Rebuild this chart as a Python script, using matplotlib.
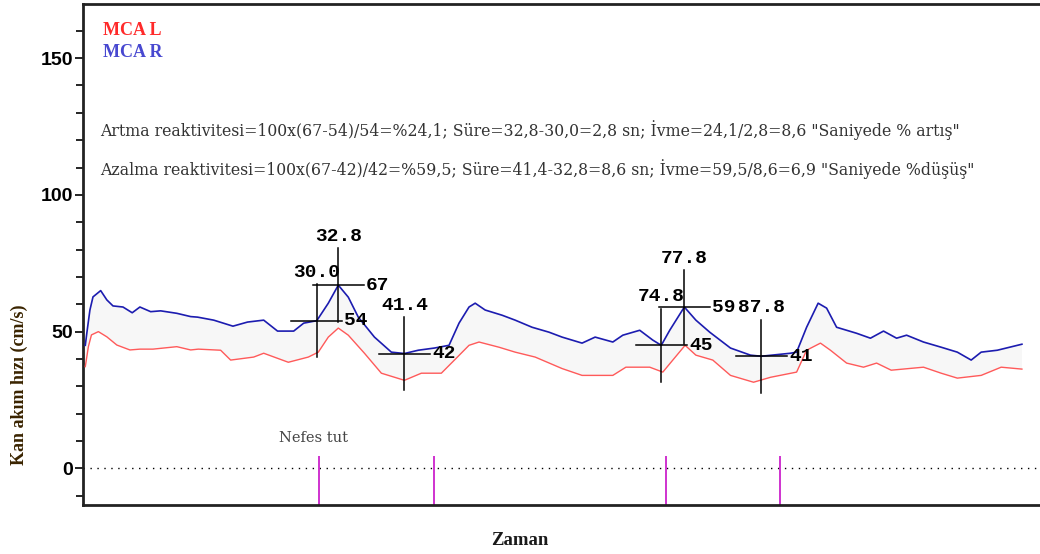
import matplotlib
matplotlib.use("Agg")
import matplotlib.pyplot as plt
import numpy as np

# MCA R (blue) - time (s), velocity (cm/s)
r_time = [-0.1, 0.1, 0.5, 0.9, 1.9, 2.7, 3.5, 4.8, 6.0, 7.0, 8.4, 9.7, 11.8, 13.6, 14.5,
          16.6, 19.1, 21.0, 23.1, 24.9, 27.0, 28.3, 30.0, 31.5, 32.8, 34.1, 35.4, 37.5,
          39.7, 41.4, 43.2, 45.3, 47.2, 48.5, 49.8, 50.6, 51.9, 54.1, 55.8, 58.0, 60.2,
          61.9, 64.5, 66.2, 68.5, 69.8, 72.0, 73.7, 74.8, 75.9, 77.8, 79.3, 81.1, 83.8,
          86.4, 87.8, 91.6, 92.4, 93.7, 95.2, 96.3, 97.6, 100.2, 102.0, 103.7, 105.4,
          106.7, 108.9, 111.2, 113.3, 115.1, 116.4, 118.5, 121.7]
r_vel = [45.0, 49.5, 57.9, 62.7, 65.0, 61.6, 59.4, 59.0, 56.9, 59.0, 57.3, 57.6, 56.7, 55.5, 55.3,
         54.2, 52.0, 53.5, 54.2, 50.2, 50.2, 53.1, 54.0, 60.4, 67.0, 62.6, 55.3, 48.0,
         42.5, 42.0, 43.2, 44.0, 45.0, 53.1, 59.0, 60.4, 57.9, 56.0, 54.2, 51.6, 49.8,
         48.0, 45.8, 48.0, 46.2, 48.7, 50.5, 46.9, 45.0, 50.5, 59.0, 54.2, 49.8, 44.0,
         41.4, 41.0, 42.1, 42.5, 51.6, 60.4, 58.6, 51.6, 49.4, 47.6, 50.2, 47.6,
         48.7, 46.2, 44.3, 42.5, 39.6, 42.5, 43.2, 45.4]

# MCA L (red)
l_time = [-0.1, 0.3, 0.7, 1.6, 2.7, 4.0, 5.7, 7.0, 8.7, 11.8, 13.6, 14.6, 17.5, 18.8, 21.8,
          23.1, 26.3, 28.9, 30.2, 31.5, 32.8, 34.1, 36.2, 38.4, 41.4, 43.6, 46.2, 47.9,
          49.8, 51.1, 53.7, 55.8, 58.4, 61.9, 64.5, 68.5, 70.2, 73.3, 75.0, 76.3, 77.9,
          79.3, 81.5, 83.8, 86.8, 89.0, 92.4, 93.7, 95.5, 96.8, 98.9, 101.1, 102.8,
          104.7, 108.9, 111.2, 113.3, 116.4, 119.0, 121.7]
l_vel = [37.2, 44.5, 48.8, 50.0, 48.1, 45.1, 43.3, 43.6, 43.6, 44.5, 43.3, 43.6, 43.2, 39.6, 40.7,
         42.1, 38.8, 40.7, 42.5, 48.0, 51.3, 48.7, 42.1, 34.8, 32.2, 34.8, 34.8, 39.6,
         45.0, 46.2, 44.3, 42.5, 40.7, 36.5, 34.0, 34.0, 37.0, 37.0, 35.2, 39.6, 45.0,
         41.4, 39.6, 34.0, 31.5, 33.3, 35.2, 43.2, 45.8, 43.2, 38.5, 37.0, 38.5,
         35.9, 37.0, 34.8, 33.0, 34.0, 37.0, 36.3]

# measurement cursors: time label, value label
cursor_time = [30.0, 32.8, 41.4, 74.8, 77.8, 87.8]
cursor_value = [54, 67, 42, 45, 59, 41]

# breath-hold event markers (s)
event_time = [30.3, 45.2, 75.4, 90.2]

line1 = ('Artma reaktivitesi=100x(67-54)/54=%24,1; Süre=32,8-30,0=2,8 sn; '
         'İvme=24,1/2,8=8,6 "Saniyede % artış"')
line2 = ('Azalma reaktivitesi=100x(67-42)/42=%59,5; Süre=41,4-32,8=8,6 sn; '
         'İvme=59,5/8,6=6,9 "Saniyede %düşüş"')

fig = plt.figure(figsize=(10.4, 5.54), dpi=100)
ax = fig.add_axes([0.0798, 0.0884, 0.925, 0.9044])

# light band between the two traces
ax.fill(np.concatenate([r_time, l_time[::-1]]), np.concatenate([r_vel, l_vel[::-1]]),
        color='#f7f7f7', lw=0, zorder=1)
ax.plot(l_time, l_vel, color='#ff5a5a', lw=1.0, zorder=3)
ax.plot(r_time, r_vel, color='#1c1cb0', lw=1.2, zorder=3)

# zero line
ax.axhline(0, color='black', lw=1.0, ls=(0, (1, 4)), zorder=2)

# event markers
ax.vlines(event_time, -14, 4.5, color='#cc22cc', lw=1.3, zorder=2)
ax.text(29.6, 11, 'Nefes tut', family='DejaVu Serif', fontsize=10.5, color='#444444',
        ha='center', va='center')

# cursors
dx, dy = 3.3, 13.4
for t, v in zip(cursor_time, cursor_value):
    ax.plot([t - dx, t + dx], [v, v], color='black', lw=1.1, zorder=4)
    ax.plot([t, t], [v - dy, v + dy], color='black', lw=1.1, zorder=4)
    ax.text(t, v + dy + 1.2, f'{t:.1f}', family='Liberation Mono', fontweight='bold',
            fontsize=14, ha='center', va='bottom', zorder=5)
    ax.text(t + dx + 0.3, v, f'{v}', family='Liberation Mono', fontweight='bold',
            fontsize=14, ha='left', va='center', zorder=5)

# legend-like labels and annotation
ax.text(0.021, 0.948, 'MCA L', transform=ax.transAxes, family='Liberation Serif',
        fontweight='bold', fontsize=13, color='#ff2a2a', va='center')
ax.text(0.021, 0.903, 'MCA R', transform=ax.transAxes, family='Liberation Serif',
        fontweight='bold', fontsize=13, color='#4848d0', va='center')
ax.text(0.018, 0.749, line1, transform=ax.transAxes, family='DejaVu Serif',
        fontsize=11.3, color='#333333', va='center')
ax.text(0.018, 0.670, line2, transform=ax.transAxes, family='DejaVu Serif',
        fontsize=11.3, color='#333333', va='center')

ax.set_xlim(-0.4, 124.7)
ax.set_ylim(-13.4, 169.8)
ax.set_yticks([0, 50, 100, 150])
ax.set_yticks(np.arange(-10, 170, 10), minor=True)
ax.set_xticks([])
ax.tick_params(axis='y', which='major', length=6, width=1.2, direction='out', pad=1,
               labelsize=14)
ax.tick_params(axis='y', which='minor', length=5, width=1.2, direction='out')
for lab in ax.get_yticklabels():
    lab.set_fontweight('bold')
    lab.set_family('Liberation Sans')

for side in ['left', 'bottom', 'top']:
    ax.spines[side].set_linewidth(2.0)
    ax.spines[side].set_color('#222222')
ax.spines['right'].set_visible(False)

ax.set_ylabel('Kan akım hızı (cm/s)', family='Liberation Serif', fontweight='bold',
              fontsize=13, color='#3a2400')
ax.yaxis.set_label_coords(-0.057, 0.24)
fig.text(0.5, 0.025, 'Zaman', family='Liberation Serif', fontweight='bold',
         fontsize=13.5, color='#1a1a1a', ha='center', va='center')

fig.savefig('out.png', dpi=100, facecolor='white')
